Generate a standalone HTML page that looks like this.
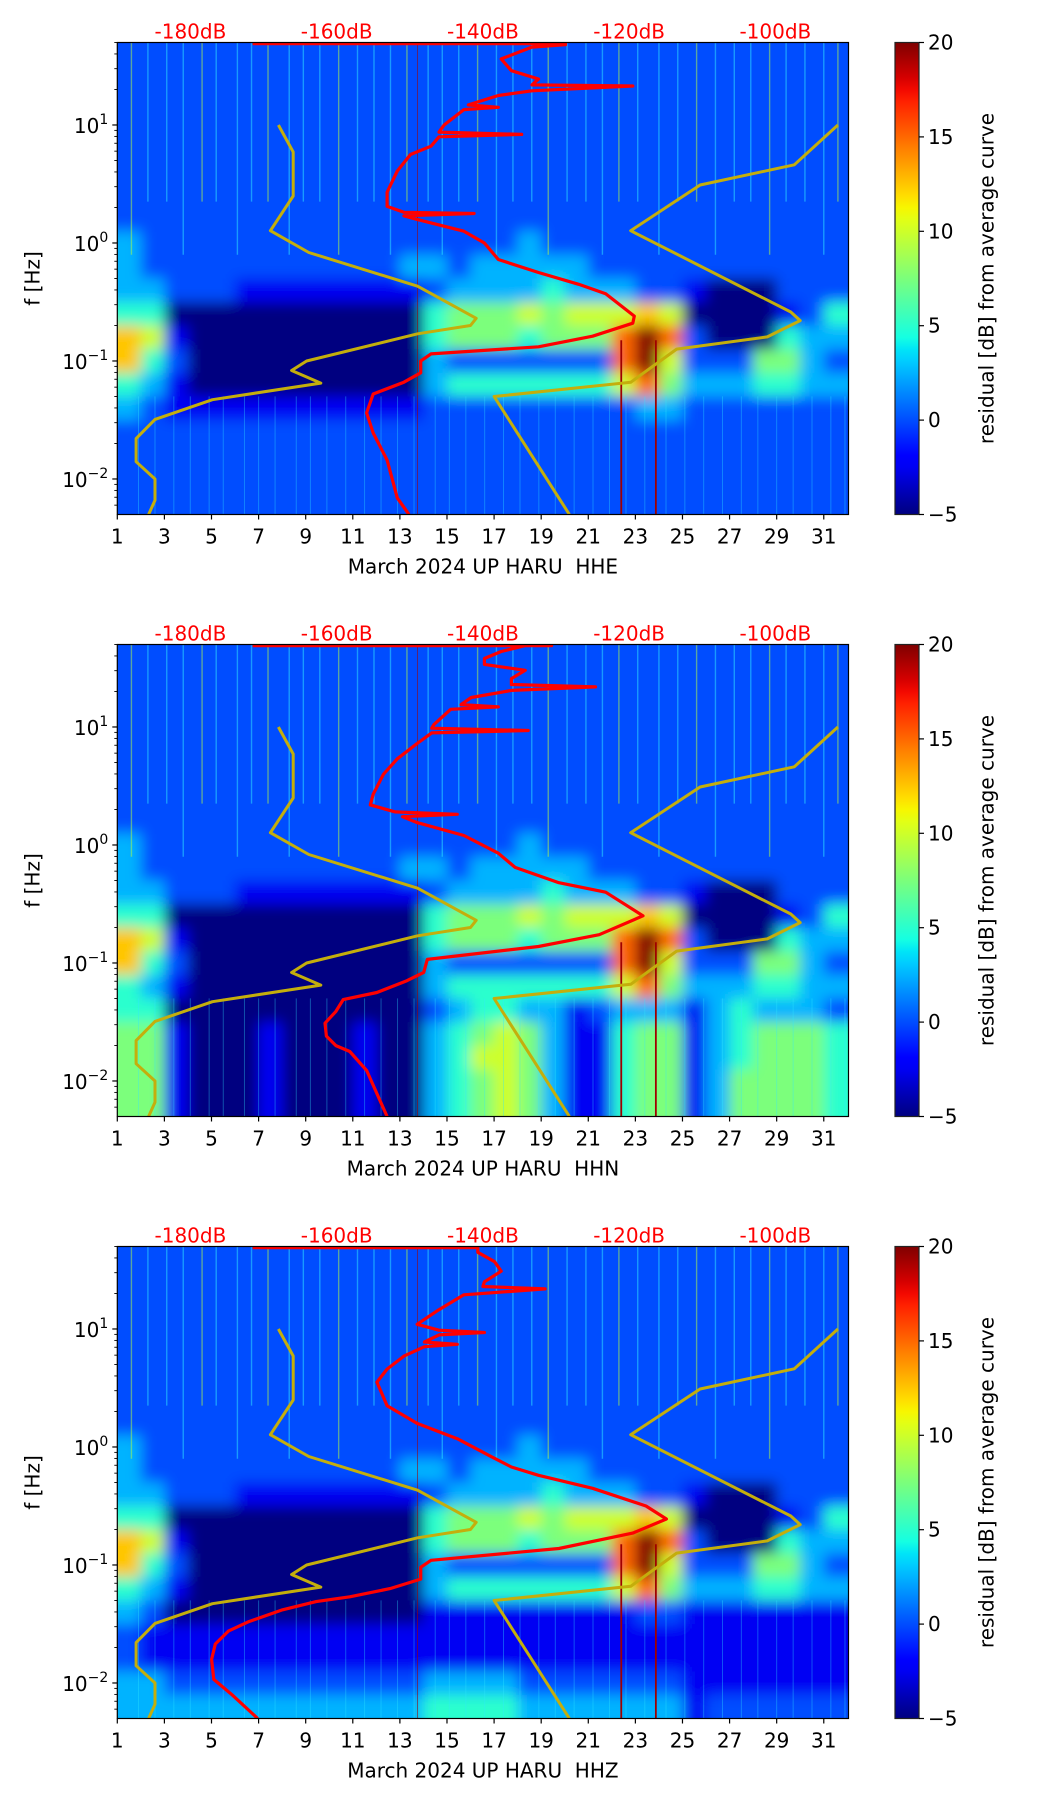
<!DOCTYPE html>
<html><head><meta charset="utf-8"><style>
html,body{margin:0;padding:0;background:#fff;}
svg{display:block;font-family:"DejaVu Sans","Liberation Sans",sans-serif;}
</style></head><body>
<svg id="fig" width="1052" height="1806" viewBox="0 0 1052 1806" xmlns="http://www.w3.org/2000/svg">
<defs id="defs"></defs>
</svg>
<script>
// ---------- data ----------
const panelNames = ["HHE", "HHN", "HHZ"];
const dayTicks = [1,3,5,7,9,11,13,15,17,19,21,23,25,27,29,31];
const freqTicks = [-2,-1,0,1];
const dbTicks = [-180,-160,-140,-120,-100];
const cbarTicks = [-5,0,5,10,15,20];
// heatmap levels: char k -> dB value
const levelValues = [-5,-2.5,0,2.5,5,7.5,10,12.5,15,20];
// rows: 20 bands of 0.2 decade from 50 Hz down to 0.005 Hz; 31 columns = days 1..31
const heatHHE = [
"2222222222222222222222222222222",
"2222222222222222222222222222222",
"2222222222222222222222222222222",
"2222222222222222222222222222222",
"2222222222222222222222222222222",
"2222222222222222222222222222222",
"2222222222222222222222222222222",
"2222222222222222222222222222222",
"3222222222222222232222222222222",
"3222222222223323333322222222222",
"3322211111111233334333221000222",
"4400000000000455565666760000124",
"7610000000000455545558982000433",
"7420000000000322222228962225532",
"4310000000000344444446853334433",
"3211111111111222222222332222222",
"2222222222222222222222222222222",
"2222222222222222222222222222222",
"2222222222222222222222222222222",
"2222222222222222222222222222222"];
const heatHHN = [
"2222222222222222222222222222222",
"2222222222222222222222222222222",
"2222222222222222222222222222222",
"2222222222222222222222222222222",
"2222222222222222222222222222222",
"2222222222222222222222222222222",
"2222222222222222222222222222222",
"2222222222222222222222222222222",
"3222222222222222232222222222222",
"3222222222223323333322222222222",
"3322211111111233334333221000222",
"4400000000000455565666760000124",
"7610000000000455545558982000433",
"7420000000000322222228962225532",
"4310000000000344444446853334433",
"4400000000000234433123331343332",
"5510001000100345653114551345554",
"5510001000100346653114551345554",
"5510001000100345653114551355554",
"5510001000100345653114551355554"];
const heatHHZ = [
"2222222222222222222222222222222",
"2222222222222222222222222222222",
"2222222222222222222222222222222",
"2222222222222222222222222222222",
"2222222222222222222222222222222",
"2222222222222222222222222222222",
"2222222222222222222222222222222",
"2222222222222222222222222222222",
"3222222222222222232222222222222",
"3222222222223323333322222222222",
"3322211111111233334333221000222",
"4400000000000455565666760000124",
"7610000000000455545558982000433",
"7420000000000322222228962225532",
"4310000000000344444446853334433",
"3200000000000111111111221111111",
"2111111111111111111111111111111",
"2111111111111111111111111111111",
"3322222222222333322222221111111",
"3333333333333444433333331222222"];
const heatData = [heatHHE, heatHHN, heatHHZ];

// yellow reference curves (day, frequency Hz)
const lowModelDays = [7.84,8.47,8.47,7.5,9.13,13.75,16.24,16.0,13.75,9.04,8.4,9.64,5.04,2.6,1.8,1.8,2.6,2.6,2.33];
const lowModelFreqs = [10,5.9,2.5,1.27,0.83,0.43,0.23,0.2,0.17,0.1,0.083,0.065,0.047,0.032,0.022,0.014,0.01,0.0066,0.005];
const highModelDays = [31.6,29.75,25.75,22.8,29.6,30.0,28.6,24.75,22.8,17.0,20.2];
const highModelFreqs = [10,4.6,3.1,1.27,0.26,0.22,0.16,0.126,0.066,0.05,0.005];

// red average-noise curves (dB, log10 f)
const avgHHEdb = [-150.1,-151.7,-153.1,-155,-155.9,-155,-150.8,-148.5,-148.5,-147.1,-132.4,-125,-119.5,-119.3,-123.2,-126.9,-132.4,-137.9,-139.8,-142.6,-149,-150.8,-141.2,-150.8,-153.1,-153.1,-151.7,-149.9,-147.1,-146,-134.7,-146,-145.3,-142.6,-137.9,-142,-137.9,-133.3,-119.5,-133.3,-132.4,-136.1,-137.5,-133.3,-128.7,-128.7,-171.5];
const avgHHElogf = [-2.301,-2.16,-1.84,-1.61,-1.44,-1.28,-1.18,-1.10,-1.0,-0.94,-0.88,-0.79,-0.68,-0.62,-0.43,-0.35,-0.25,-0.14,0.0,0.10,0.2,0.23,0.25,0.26,0.31,0.43,0.61,0.75,0.82,0.9,0.92,0.94,1.0,1.13,1.15,1.17,1.25,1.29,1.33,1.34,1.39,1.46,1.56,1.66,1.68,1.695,1.695];
const avgHHNdb = [-153.1,-155.9,-158.2,-160.1,-161.4,-161.6,-160.1,-159.1,-154.5,-150.4,-148.1,-147.6,-132.4,-124.1,-118.1,-123.2,-129.6,-135.6,-137.9,-142.6,-149,-151,-143.5,-152,-155.4,-155,-153.6,-151.7,-149,-147,-133.8,-147,-146.7,-144.4,-137.9,-143,-141.6,-136.1,-124.6,-136.1,-136.1,-134.2,-139.8,-139.8,-137.5,-134.2,-130.6,-171.5];
const avgHHNlogf = [-2.301,-1.91,-1.75,-1.70,-1.62,-1.51,-1.41,-1.31,-1.25,-1.15,-1.08,-0.97,-0.86,-0.76,-0.60,-0.40,-0.32,-0.19,-0.07,0.08,0.19,0.24,0.26,0.28,0.34,0.43,0.60,0.73,0.86,0.95,0.97,0.99,1.02,1.15,1.17,1.19,1.25,1.31,1.34,1.36,1.41,1.48,1.53,1.58,1.64,1.69,1.695,1.695];
const avgHHZdb = [-170.8,-174.3,-176.8,-177.1,-176.6,-174.8,-172,-167.4,-162.8,-158.2,-152.7,-148.5,-148.5,-147.1,-129.6,-119.5,-114.9,-117.7,-125,-132.4,-136.1,-138.9,-143.5,-149,-153.1,-154.5,-153.1,-150.8,-148,-143.5,-148,-146,-139.8,-146,-149,-146.1,-142.6,-131.5,-140,-139.8,-137.5,-138.4,-140.7,-140.7,-171.5];
const avgHHZlogf = [-2.301,-2.1,-1.97,-1.80,-1.67,-1.56,-1.48,-1.38,-1.31,-1.27,-1.20,-1.12,-1.02,-0.96,-0.86,-0.73,-0.61,-0.50,-0.35,-0.24,-0.17,-0.08,0.07,0.20,0.35,0.55,0.66,0.77,0.85,0.87,0.89,0.95,0.97,0.99,1.04,1.16,1.29,1.34,1.36,1.40,1.49,1.57,1.65,1.695,1.695];
const avgDb = [avgHHEdb, avgHHNdb, avgHHZdb];
const avgLogf = [avgHHElogf, avgHHNlogf, avgHHZlogf];

// thin dark-red vertical event lines (day, top freq Hz)
const eventDays = [13.75, 22.4, 23.87];
const eventTopFreqs = [50, 0.15, 0.15];
// transient streak days (decorative texture)
const streakDays = [1.6,2.3,3.1,3.8,4.6,5.2,6.1,6.7,7.4,8.3,8.9,9.6,10.4,11.2,11.9,12.6,13.3,14.2,14.8,15.5,16.3,17.1,17.8,18.6,19.3,20.1,20.9,21.6,22.3,23.1,24.0,24.8,25.6,26.4,27.2,27.9,28.7,29.4,30.2,31.0,31.6];

// ---------- layout ----------
const AX_L = 117.3, AX_R = 848.5, AX_H = 472;
const panelTops = [42.5, 644.5, 1246.5];
const DAY0 = 1, DAY1 = 32.05, LOGF0 = -2.301, LOGF1 = 1.699, DB0 = -190, DB1 = -90;
const CB_L = 895, CB_R = 919;
const NS = "http://www.w3.org/2000/svg";
const svg = document.getElementById("fig");
const defs = document.getElementById("defs");

function el(tag, attrs, parent) {
  const e = document.createElementNS(NS, tag);
  for (const k in attrs) e.setAttribute(k, attrs[k]);
  (parent || svg).appendChild(e);
  return e;
}
function xDay(d) { return AX_L + (d - DAY0) / (DAY1 - DAY0) * (AX_R - AX_L); }
function xDb(v) { return AX_L + (v - DB0) / (DB1 - DB0) * (AX_R - AX_L); }
function yLog(top, lf) { return top + (LOGF1 - lf) / (LOGF1 - LOGF0) * AX_H; }
function jet(t) {
  t = Math.max(0, Math.min(1, t));
  function seg(x, pts) {
    for (let i = 0; i < pts.length - 1; i++) {
      const a = pts[i], b = pts[i + 1];
      if (x >= a[0] && x <= b[0]) return a[1] + (b[1] - a[1]) * (x - a[0]) / (b[0] - a[0] || 1);
    }
    return pts[pts.length - 1][1];
  }
  const r = seg(t, [[0,0],[0.35,0],[0.66,1],[0.89,1],[1,0.5]]);
  const g = seg(t, [[0,0],[0.125,0],[0.375,1],[0.64,1],[0.91,0],[1,0]]);
  const b = seg(t, [[0,0.5],[0.11,1],[0.34,1],[0.65,0],[1,0]]);
  return "rgb(" + Math.round(r*255) + "," + Math.round(g*255) + "," + Math.round(b*255) + ")";
}
function colorFor(v) { return jet((v + 5) / 25); }

const grad = el("linearGradient", {id: "jetgrad", x1: "0", y1: "1", x2: "0", y2: "0"}, defs);
for (let i = 0; i <= 40; i++) el("stop", {offset: (i / 40).toFixed(3), "stop-color": jet(i / 40)}, grad);

panelTops.forEach(function (top, p) {
  const bottom = top + AX_H;
  const panel = el("g", {});
  
  

  const clip = el("clipPath", {id: "clip" + p}, defs);
  el("rect", {x: AX_L, y: top, width: AX_R - AX_L, height: AX_H}, clip);
  const filt = el("filter", {id: "blur" + p, x: AX_L - 30, y: top - 30, width: AX_R - AX_L + 60, height: AX_H + 60, filterUnits: "userSpaceOnUse"}, defs);
  el("feGaussianBlur", {stdDeviation: "7 7"}, filt);

  const clipG = el("g", {"clip-path": "url(#clip" + p + ")"}, panel);
  const heat = el("g", {filter: "url(#blur" + p + ")"}, clipG);
  
  
  const rows = heatData[p];
  const nRows = rows.length;
  const PAD = 30;
  rows.forEach(function (row, i) {
    const lfTop = LOGF1 - i * (LOGF1 - LOGF0) / nRows;
    const lfBot = LOGF1 - (i + 1) * (LOGF1 - LOGF0) / nRows;
    let y0 = yLog(top, lfTop), y1 = yLog(top, lfBot);
    if (i === 0) y0 -= PAD;
    if (i === nRows - 1) y1 += PAD;
    for (let j = 0; j < 31; j++) {
      const ch = row.charAt(Math.min(j, row.length - 1));
      const v = levelValues[parseInt(ch, 10)];
      let x0 = xDay(DAY0 + j), x1 = xDay(DAY0 + j + 1);
      if (j === 0) x0 -= PAD;
      if (j === 30) x1 = AX_R + PAD;
      const c = el("rect", {x: x0.toFixed(2), y: y0.toFixed(2), width: (x1 - x0 + 0.6).toFixed(2), height: (y1 - y0 + 0.6).toFixed(2), fill: colorFor(v)}, heat);
      
      
    }
  });

  streakDays.forEach(function (d, k) {
    const s = el("line", {x1: xDay(d), x2: xDay(d), y1: top, y2: yLog(top, k % 3 === 0 ? -0.1 : 0.35), stroke: k % 4 === 0 ? "#b8ff40" : "#30e8ff", "stroke-width": 1.4, opacity: 0.5}, clipG);
    
    
    const s2 = el("line", {x1: xDay(d + 0.3), x2: xDay(d + 0.3), y1: yLog(top, -1.3), y2: bottom, stroke: "#30e8ff", "stroke-width": 1, opacity: 0.35}, clipG);
    
    
  });

  eventDays.forEach(function (d, k) {
    const ln = el("line", {x1: xDay(d), x2: xDay(d), y1: yLog(top, Math.log10(eventTopFreqs[k])), y2: bottom, stroke: "#a00000", "stroke-width": k === 0 ? 0.8 : 1.8, opacity: k === 0 ? 0.7 : 1}, clipG);
    
    
  });

  [[lowModelDays, lowModelFreqs], [highModelDays, highModelFreqs]].forEach(function (s, k) {
    const pts = s[0].map(function (d, i) { return xDay(d).toFixed(1) + "," + yLog(top, Math.log10(s[1][i])).toFixed(1); }).join(" ");
    const pl = el("polyline", {points: pts, fill: "none", stroke: "#c4ae0c", "stroke-width": 3, "stroke-linejoin": "round"}, clipG);
    
    
  });

  const dbs = avgDb[p], lfs = avgLogf[p];
  const rpts = dbs.map(function (v, i) { return xDb(v).toFixed(1) + "," + yLog(top, Math.min(lfs[i], 1.69)).toFixed(1); }).join(" ");
  const rl = el("polyline", {points: rpts, fill: "none", stroke: "#ff0000", "stroke-width": 3.2, "stroke-linejoin": "round"}, clipG);
  
  

  const frame = el("rect", {x: AX_L, y: top, width: AX_R - AX_L, height: AX_H, fill: "none", stroke: "#000", "stroke-width": 1.2}, panel);
  
  

  dayTicks.forEach(function (d) {
    const x = xDay(d);
    el("line", {x1: x, x2: x, y1: bottom, y2: bottom + 5, stroke: "#000", "stroke-width": 1.2}, panel);
    const t = el("text", {x: x, y: bottom + 29, "text-anchor": "middle", "font-size": 20, fill: "#000"}, panel);
    t.textContent = String(d);
    
    
  });
  const xl = el("text", {x: (AX_L + AX_R) / 2, y: bottom + 59, "text-anchor": "middle", "font-size": 20, fill: "#000"}, panel);
  xl.textContent = "March 2024 UP HARU\u00a0\u00a0" + panelNames[p];
  
  

  for (let dec = -3; dec <= 1; dec++) {
    for (let m = 1; m <= 9; m++) {
      const lf = dec + Math.log10(m);
      if (lf < LOGF0 - 1e-6 || lf > LOGF1 + 1e-6) continue;
      const y = yLog(top, lf);
      el("line", {x1: AX_L, x2: AX_L - (m === 1 ? 5 : 3), y1: y, y2: y, stroke: "#000", "stroke-width": m === 1 ? 1.2 : 0.9}, panel);
    }
  }
  freqTicks.forEach(function (e) {
    const y = yLog(top, e);
    const t = el("text", {x: AX_L - 9, y: y + 8, "text-anchor": "end", "font-size": 20, fill: "#000"}, panel);
    
    
    const b = el("tspan", {}, t); b.textContent = "10";
    const s = el("tspan", {"font-size": 14, dy: -9}, t); s.textContent = e < 0 ? "\u2212" + (-e) : String(e);
  });
  const yl = el("text", {x: 34, y: top + AX_H / 2, "text-anchor": "middle", "font-size": 20, fill: "#000", transform: "rotate(-90 34 " + (top + AX_H / 2) + ")", "dominant-baseline": "middle"}, panel);
  yl.textContent = "f [Hz]";
  
  

  dbTicks.forEach(function (v) {
    const t = el("text", {x: xDb(v), y: top - 4, "text-anchor": "middle", "font-size": 20, fill: "#ff0000"}, panel);
    t.textContent = v + "dB";
    
    
  });

  const cb = el("rect", {x: CB_L, y: top, width: CB_R - CB_L, height: AX_H, fill: "url(#jetgrad)", stroke: "#222", "stroke-width": 1.2}, panel);
  
  
  cbarTicks.forEach(function (v) {
    const y = bottom - (v + 5) / 25 * AX_H;
    el("line", {x1: CB_R, x2: CB_R + 5, y1: y, y2: y, stroke: "#000", "stroke-width": 1.2}, panel);
    const t = el("text", {x: CB_R + 9, y: y + 7, "font-size": 20, fill: "#000"}, panel);
    t.textContent = v < 0 ? "\u2212" + (-v) : String(v);
    
    
  });
  const cy = top + AX_H / 2;
  const ct = el("text", {x: 988, y: cy, "text-anchor": "middle", "font-size": 20, fill: "#000", transform: "rotate(-90 988 " + cy + ")", "dominant-baseline": "middle"}, panel);
  ct.textContent = "residual [dB] from average curve";
  
  
});
</script>
</body></html>
